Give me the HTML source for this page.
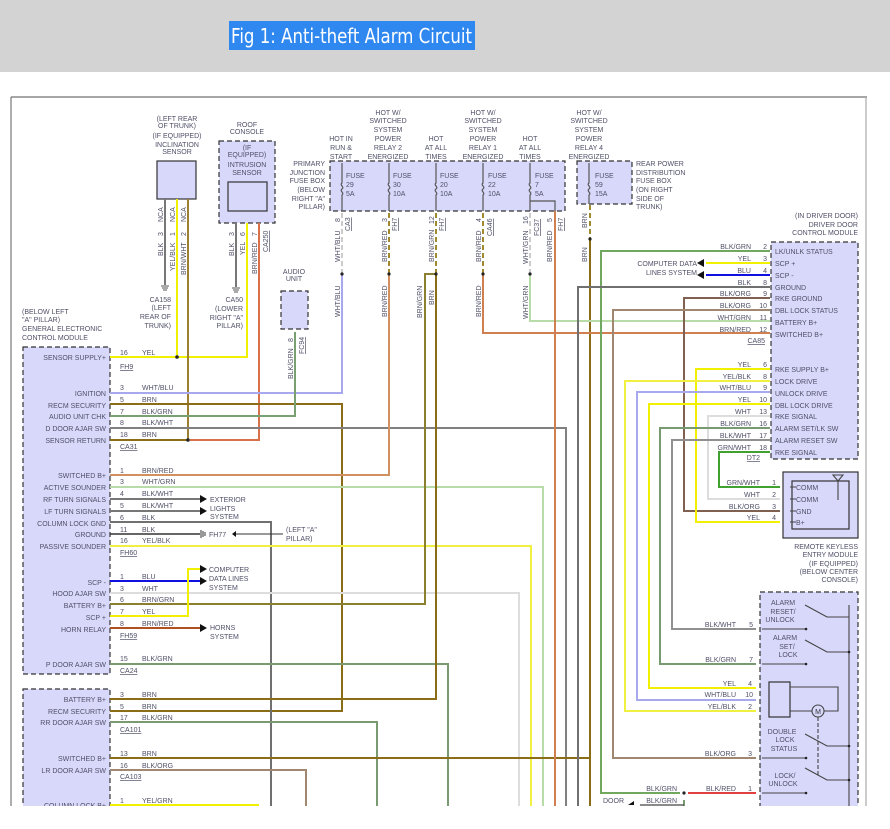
<!DOCTYPE html>
<html><head><meta charset="utf-8"><style>
html,body{margin:0;padding:0;background:#fff;width:890px;height:829px;overflow:hidden}
#hdr{position:absolute;left:0;top:0;width:890px;height:72px;background:#d3d3d3}
svg{position:absolute;left:0;top:0}
text{font-family:"Liberation Sans",sans-serif;font-size:7px;fill:#505068}
.r{text-anchor:end}.m{text-anchor:middle}
.w{fill:none;stroke-width:2}
</style></head><body>
<div id="hdr"></div>
<svg width="890" height="829" viewBox="0 0 890 829">
<rect x="229" y="21" width="246" height="29" fill="#2f88f0"/>
<text x="231" y="43" textLength="241" lengthAdjust="spacingAndGlyphs" style="font-size:20px;fill:#fff;font-family:'DejaVu Sans','Liberation Sans',sans-serif">Fig 1: Anti-theft Alarm Circuit</text>
<!-- frame -->
<line x1="11" y1="97" x2="867" y2="97" stroke="#888" stroke-width="1.5"/>
<line x1="11" y1="97" x2="11" y2="806" stroke="#777" stroke-width="1.2"/>
<line x1="866" y1="97" x2="866" y2="806" stroke="#aaa" stroke-width="1.2"/>

<!-- boxes -->
<g fill="#d8d8fb" stroke="#333" stroke-width="1.2">
<rect x="23" y="347" width="87" height="327" stroke-dasharray="5,3"/>
<rect x="23" y="689" width="87" height="130" stroke-dasharray="5,3"/>
<rect x="157" y="161" width="39" height="38"/>
<rect x="219" y="141" width="56" height="82" stroke-dasharray="5,3"/>
<rect x="228" y="182" width="39" height="29"/>
<rect x="281" y="291" width="27" height="38" stroke-dasharray="5,3"/>
<rect x="330" y="161" width="235" height="50" stroke-dasharray="5,3"/>
<rect x="577" y="161" width="55" height="43" stroke-dasharray="5,3"/>
<rect x="771" y="242" width="87" height="217" stroke-dasharray="5,3"/>
<rect x="783" y="472" width="75" height="66"/>
<rect x="792" y="481" width="57" height="48"/>
<rect x="760" y="592" width="98" height="230" stroke-dasharray="5,3"/>
<rect x="769" y="682" width="21" height="35"/>
</g>

<!-- fuses -->
<g stroke="#555" stroke-width="1.2" fill="none">
<path d="M342 163v20c-3 2 3 4 0 6c-3 2 3 4 0 6v16"/>
<path d="M389 163v20c-3 2 3 4 0 6c-3 2 3 4 0 6v16"/>
<path d="M436 163v20c-3 2 3 4 0 6c-3 2 3 4 0 6v16"/>
<path d="M483 163v20c-3 2 3 4 0 6c-3 2 3 4 0 6v16"/>
<path d="M530 163v20c-3 2 3 4 0 6c-3 2 3 4 0 6v16"/>
<path d="M530 201h25v10"/>
<path d="M589 163v20c-3 2 3 4 0 6c-3 2 3 4 0 6v9"/>
</g>
<g font-size="7"><text x="346" y="178">FUSE</text><text x="346" y="187">29</text><text x="346" y="196">5A</text>
<text x="393" y="178">FUSE</text><text x="393" y="187">30</text><text x="393" y="196">10A</text>
<text x="440" y="178">FUSE</text><text x="440" y="187">20</text><text x="440" y="196">10A</text>
<text x="488" y="178">FUSE</text><text x="488" y="187">22</text><text x="488" y="196">10A</text>
<text x="535" y="178">FUSE</text><text x="535" y="187">7</text><text x="535" y="196">5A</text>
<text x="595" y="178">FUSE</text><text x="595" y="187">59</text><text x="595" y="196">15A</text></g>

<!-- dashed upper wire segments -->
<g class="w" stroke-dasharray="5,3">
<line x1="342" y1="213" x2="342" y2="274" stroke="#ccc"/>
<line x1="389" y1="213" x2="389" y2="274" stroke="#a08a30"/>
<line x1="436" y1="213" x2="436" y2="274" stroke="#a08a30"/>
<line x1="483" y1="213" x2="483" y2="274" stroke="#a08a30"/>
<line x1="530" y1="213" x2="530" y2="274" stroke="#ccc"/>
<line x1="590" y1="205" x2="590" y2="239" stroke="#a08a30"/>
</g>

<!-- wires -->
<g class="w">
<polyline points="177,199 177,357" stroke="#f0f000"/>
<polyline points="110,357 247,357 247,223" stroke="#f0f000"/>
<polyline points="165,199 165,285" stroke="#777"/>
<polyline points="236,223 236,287" stroke="#777"/>
<polyline points="188,199 188,440" stroke="#9a8030"/>
<polyline points="110,440 188,440" stroke="#8b6d18"/>
<polyline points="190,440 259,440 259,223" stroke="#d8704a"/>
<polyline points="110,393 342,393 342,274" stroke="#a8a8ee"/>
<polyline points="110,404 342,404 342,711 110,711" stroke="#8b6d18"/>
<polyline points="110,416 295,416 295,332" stroke="#78a070"/>
<polyline points="110,428 566,428 566,806" stroke="#808080"/>
<polyline points="110,475 389,475 389,274" stroke="#d09060"/>
<polyline points="110,487 543,487 543,806" stroke="#b8dca8"/>
<polyline points="110,499 200,499" stroke="#777"/>
<polyline points="110,511 200,511" stroke="#777"/>
<polyline points="110,522 271,522 271,806" stroke="#707070"/>
<polyline points="110,534 200,534" stroke="#333" stroke-width="1.5"/>
<polyline points="110,546 531,546 531,806" stroke="#f0f040"/>
<polyline points="110,581 200,581" stroke="#1010e0"/>
<polyline points="110,593 519,593 519,806" stroke="#ddd"/>
<polyline points="110,604 425,604 425,274 436,274" stroke="#8a8030"/>
<polyline points="110,616 188,616 188,569 200,569" stroke="#f0f000"/>
<polyline points="110,628 200,628" stroke="#b05020"/>
<polyline points="110,664 448,664 448,806" stroke="#7a9a70"/>
<polyline points="110,699 436,699 436,274" stroke="#8b6d18"/>
<polyline points="110,722 377,722 377,806" stroke="#7a9a70"/>
<polyline points="110,758 590,758" stroke="#8b6d18"/>
<polyline points="590,239 590,806" stroke="#8b6d18"/>
<polyline points="110,770 306,770 306,806" stroke="#a08870"/>
<polyline points="110,805 259,805" stroke="#f0f000"/>
<polyline points="483,274 483,333 770,333" stroke="#d08050"/>
<polyline points="530,274 530,321 770,321" stroke="#b8dca8"/>
<polyline points="555,211 555,806" stroke="#d08050"/>
<polyline points="770,251 601,251 601,793 680,793" stroke="#70a860"/>
<polyline points="688,793 756,793" stroke="#e04040"/>
<polyline points="770,263 706,263" stroke="#f0f000"/>
<polyline points="770,275 706,275" stroke="#1010e0"/>
<polyline points="770,287 578,287 578,806" stroke="#707070"/>
<polyline points="770,298 684,298 684,511 780,511" stroke="#806050"/>
<polyline points="770,310 613,310 613,758 756,758" stroke="#a08870"/>
<polyline points="770,369 696,369 696,522 780,522" stroke="#f0f000"/>
<polyline points="770,381 625,381 625,711 756,711" stroke="#f0f040"/>
<polyline points="770,392 637,392 637,700 756,700" stroke="#a8a8ee"/>
<polyline points="770,404 649,404 649,688 756,688" stroke="#f0f000"/>
<polyline points="770,416 708,416 708,499 780,499" stroke="#ddd"/>
<polyline points="770,428 660,428 660,664 756,664" stroke="#789a70"/>
<polyline points="770,440 672,440 672,629 756,629" stroke="#909090"/>
<polyline points="770,452 719,452 719,487 780,487" stroke="#40a030"/>
<polyline points="684,806 684,800" stroke="#7a9a70"/>
<polyline points="684,805 640,805" stroke="#444" stroke-width="1.2"/>
</g>

<!-- dots -->
<g fill="#222"><circle cx="177" cy="357" r="1.8"/><circle cx="188" cy="440" r="1.8"/>
<circle cx="342" cy="274" r="1.6"/><circle cx="389" cy="274" r="1.6"/><circle cx="436" cy="274" r="1.6"/><circle cx="483" cy="274" r="1.6"/><circle cx="530" cy="274" r="1.6"/><circle cx="590" cy="239" r="1.6"/><circle cx="684" cy="793" r="1.6"/></g>

<!-- arrows -->
<g fill="#111">
<polygon points="200,495 207,499 200,503"/><polygon points="200,507 207,511 200,515"/>
<polygon points="200,565 207,569 200,573"/><polygon points="200,577 207,581 200,585"/>
<polygon points="200,624 207,628 200,632"/>
<polygon points="704,259 697,263 704,267"/><polygon points="704,271 697,275 704,279"/>
<polygon points="236,531 232,534 236,537"/>
<polygon points="634,801 628,805 634,805"/>
</g>
<line x1="236" y1="534" x2="283" y2="534" stroke="#333"/>
<g stroke="#333" stroke-width="1"><line x1="201" y1="530" x2="201" y2="538"/><line x1="203" y1="531" x2="203" y2="537"/><line x1="205" y1="532" x2="205" y2="536"/></g>
<g stroke="#555" stroke-width="1"><path d="M161 286h8M162 288h6M163 290h4"/><path d="M232 288h8M233 290h6M234 292h4"/></g>

<!-- lock module internals -->
<g stroke="#444" stroke-width="1.1" fill="none">
<path d="M762 629h44M762 664h44M762 758h44M762 793h44"/>
<path d="M805 605l22 12h22M805 640l22 12h22M805 734l22 12h22M805 768l22 12h22"/>
<path d="M849 605v220"/>
<path d="M790 687h48v24h-14M790 711h22"/>
<circle cx="818" cy="711" r="6"/>
<path d="M818 717v59" stroke-dasharray="4,2"/>
<path d="M838 489v-8l-5-6h10l-5 6M838 481v19"/>
<path d="M790 487h6M790 499h6M790 511h6M790 522h6"/>
</g>
<g fill="#222"><circle cx="806" cy="629" r="1.3"/><circle cx="806" cy="664" r="1.3"/><circle cx="806" cy="758" r="1.3"/><circle cx="806" cy="793" r="1.3"/><circle cx="849" cy="652" r="1.3"/><circle cx="849" cy="746" r="1.3"/><circle cx="849" cy="780" r="1.3"/></g>
<text x="818" y="714" class="m" font-size="9" style="fill:#333">M</text>

<!-- top labels -->
<g class="m">
<text x="177" y="121">(LEFT REAR</text><text x="177" y="128">OF TRUNK)</text><text x="177" y="138">(IF EQUIPPED)</text><text x="177" y="147">INCLINATION</text><text x="177" y="154">SENSOR</text>
<text x="247" y="127">ROOF</text><text x="247" y="134">CONSOLE</text>
<text x="247" y="150">(IF</text><text x="247" y="157">EQUIPPED)</text><text x="247" y="167">INTRUSION</text><text x="247" y="175">SENSOR</text>
<text x="294" y="274">AUDIO</text><text x="294" y="281">UNIT</text>
<text x="341" y="141">HOT IN</text><text x="341" y="150">RUN &amp;</text><text x="341" y="159">START</text>
<text x="388" y="115">HOT W/</text><text x="388" y="123">SWITCHED</text><text x="388" y="132">SYSTEM</text><text x="388" y="141">POWER</text><text x="388" y="150">RELAY 2</text><text x="388" y="159">ENERGIZED</text>
<text x="436" y="141">HOT</text><text x="436" y="150">AT ALL</text><text x="436" y="159">TIMES</text>
<text x="483" y="115">HOT W/</text><text x="483" y="123">SWITCHED</text><text x="483" y="132">SYSTEM</text><text x="483" y="141">POWER</text><text x="483" y="150">RELAY 1</text><text x="483" y="159">ENERGIZED</text>
<text x="530" y="141">HOT</text><text x="530" y="150">AT ALL</text><text x="530" y="159">TIMES</text>
<text x="589" y="115">HOT W/</text><text x="589" y="123">SWITCHED</text><text x="589" y="132">SYSTEM</text><text x="589" y="141">POWER</text><text x="589" y="150">RELAY 4</text><text x="589" y="159">ENERGIZED</text>
<text x="783" y="605">ALARM</text><text x="783" y="614">RESET/</text><text x="780" y="622">UNLOCK</text>
<text x="785" y="640">ALARM</text><text x="787" y="649">SET/</text><text x="788" y="657">LOCK</text>
<text x="782" y="734">DOUBLE</text><text x="785" y="742">LOCK</text><text x="784" y="751">STATUS</text>
<text x="785" y="778">LOCK/</text><text x="783" y="786">UNLOCK</text>
</g>
<g class="r">
<text x="325" y="166">PRIMARY</text><text x="325" y="175">JUNCTION</text><text x="325" y="183">FUSE BOX</text><text x="325" y="192">(BELOW</text><text x="325" y="201">RIGHT "A"</text><text x="325" y="209">PILLAR)</text>
<text x="171" y="302">CA158</text><text x="171" y="310">(LEFT</text><text x="171" y="319">REAR OF</text><text x="171" y="328">TRUNK)</text>
<text x="243" y="302">CA50</text><text x="243" y="311">(LOWER</text><text x="243" y="320">RIGHT "A"</text><text x="243" y="328">PILLAR)</text>
<text x="858" y="218">(IN DRIVER DOOR)</text><text x="858" y="227">DRIVER DOOR</text><text x="858" y="235">CONTROL MODULE</text>
<text x="697" y="266">COMPUTER DATA</text><text x="697" y="275">LINES SYSTEM</text>
<text x="858" y="549">REMOTE KEYLESS</text><text x="858" y="557">ENTRY MODULE</text><text x="858" y="566">(IF EQUIPPED)</text><text x="858" y="574">(BELOW CENTER</text><text x="858" y="582">CONSOLE)</text>
<text x="106" y="360">SENSOR SUPPLY+</text><text x="106" y="396">IGNITION</text><text x="106" y="408">RECM SECURITY</text><text x="106" y="419">AUDIO UNIT CHK</text><text x="106" y="431">D DOOR AJAR SW</text><text x="106" y="443">SENSOR RETURN</text>
<text x="106" y="478">SWITCHED B+</text><text x="106" y="490">ACTIVE SOUNDER</text><text x="106" y="502">RF TURN SIGNALS</text><text x="106" y="514">LF TURN SIGNALS</text><text x="106" y="526">COLUMN LOCK GND</text><text x="106" y="537">GROUND</text><text x="106" y="549">PASSIVE SOUNDER</text>
<text x="106" y="585">SCP -</text><text x="106" y="596">HOOD AJAR SW</text><text x="106" y="608">BATTERY B+</text><text x="106" y="620">SCP +</text><text x="106" y="632">HORN RELAY</text><text x="106" y="667">P DOOR AJAR SW</text>
<text x="106" y="702">BATTERY B+</text><text x="106" y="714">RECM SECURITY</text><text x="106" y="725">RR DOOR AJAR SW</text><text x="106" y="761">SWITCHED B+</text><text x="106" y="773">LR DOOR AJAR SW</text><text x="106" y="808">COLUMN LOCK B+</text>
<text x="751" y="249">BLK/GRN</text><text x="751" y="261">YEL</text><text x="751" y="273">BLU</text><text x="751" y="285">BLK</text><text x="751" y="296">BLK/ORG</text><text x="751" y="308">BLK/ORG</text><text x="751" y="320">WHT/GRN</text><text x="751" y="332">BRN/RED</text>
<text x="751" y="367">YEL</text><text x="751" y="379">YEL/BLK</text><text x="751" y="390">WHT/BLU</text><text x="751" y="402">YEL</text><text x="751" y="414">WHT</text><text x="751" y="426">BLK/GRN</text><text x="751" y="438">BLK/WHT</text><text x="751" y="450">GRN/WHT</text>
<text x="767" y="249">2</text><text x="767" y="261">3</text><text x="767" y="273">4</text><text x="767" y="285">8</text><text x="767" y="296">9</text><text x="767" y="308">10</text><text x="767" y="320">11</text><text x="767" y="332">12</text>
<text x="767" y="367">6</text><text x="767" y="379">8</text><text x="767" y="390">9</text><text x="767" y="402">10</text><text x="767" y="414">13</text><text x="767" y="426">16</text><text x="767" y="438">17</text><text x="767" y="450">18</text>
<text x="760" y="460" text-decoration="underline">DT2</text><text x="765" y="343" text-decoration="underline">CA85</text>
<text x="760" y="485">GRN/WHT</text><text x="760" y="497">WHT</text><text x="760" y="509">BLK/ORG</text><text x="760" y="520">YEL</text>
<text x="776" y="485">1</text><text x="776" y="497">2</text><text x="776" y="509">3</text><text x="776" y="520">4</text>
<text x="736" y="627">BLK/WHT</text><text x="736" y="662">BLK/GRN</text><text x="736" y="686">YEL</text><text x="736" y="697">WHT/BLU</text><text x="736" y="709">YEL/BLK</text><text x="736" y="756">BLK/ORG</text><text x="736" y="791">BLK/RED</text>
<text x="753" y="627">5</text><text x="753" y="662">7</text><text x="752" y="686">4</text><text x="753" y="697">10</text><text x="752" y="709">2</text><text x="752" y="756">3</text><text x="752" y="791">1</text>
<text x="677" y="791">BLK/GRN</text><text x="677" y="803">BLK/GRN</text>
</g>
<text x="636" y="166">REAR POWER</text><text x="636" y="175">DISTRIBUTION</text><text x="636" y="183">FUSE BOX</text><text x="636" y="192">(ON RIGHT</text><text x="636" y="201">SIDE OF</text><text x="636" y="209">TRUNK)</text>
<text x="22" y="314">(BELOW LEFT</text><text x="22" y="322">"A" PILLAR)</text><text x="22" y="331">GENERAL ELECTRONIC</text><text x="22" y="340">CONTROL MODULE</text>
<text x="796" y="490">COMM</text><text x="796" y="502">COMM</text><text x="796" y="514">GND</text><text x="796" y="525">B+</text>
<text x="775" y="254">LK/UNLK STATUS</text><text x="775" y="266">SCP +</text><text x="775" y="278">SCP -</text><text x="775" y="290">GROUND</text><text x="775" y="301">RKE GROUND</text><text x="775" y="313">DBL LOCK STATUS</text><text x="775" y="325">BATTERY B+</text><text x="775" y="337">SWITCHED B+</text>
<text x="775" y="372">RKE SUPPLY B+</text><text x="775" y="384">LOCK DRIVE</text><text x="775" y="396">UNLOCK DRIVE</text><text x="775" y="408">DBL LOCK DRIVE</text><text x="775" y="419">RKE SIGNAL</text><text x="775" y="431">ALARM SET/LK SW</text><text x="775" y="443">ALARM RESET SW</text><text x="775" y="455">RKE SIGNAL</text>
<g>
<text x="120" y="355">16</text><text x="142" y="355">YEL</text><text x="120" y="369" text-decoration="underline">FH9</text>
<text x="120" y="390">3</text><text x="142" y="390">WHT/BLU</text><text x="120" y="402">5</text><text x="142" y="402">BRN</text><text x="120" y="414">7</text><text x="142" y="414">BLK/GRN</text><text x="120" y="425">8</text><text x="142" y="425">BLK/WHT</text><text x="120" y="437">18</text><text x="142" y="437">BRN</text><text x="120" y="449" text-decoration="underline">CA31</text>
<text x="120" y="473">1</text><text x="142" y="473">BRN/RED</text><text x="120" y="484">3</text><text x="142" y="484">WHT/GRN</text><text x="120" y="496">4</text><text x="142" y="496">BLK/WHT</text><text x="120" y="508">5</text><text x="142" y="508">BLK/WHT</text><text x="120" y="520">6</text><text x="142" y="520">BLK</text><text x="120" y="532">11</text><text x="142" y="532">BLK</text><text x="120" y="543">16</text><text x="142" y="543">YEL/BLK</text><text x="120" y="555" text-decoration="underline">FH60</text>
<text x="120" y="579">1</text><text x="142" y="579">BLU</text><text x="120" y="591">3</text><text x="142" y="591">WHT</text><text x="120" y="602">6</text><text x="142" y="602">BRN/GRN</text><text x="120" y="614">7</text><text x="142" y="614">YEL</text><text x="120" y="626">8</text><text x="142" y="626">BRN/RED</text><text x="120" y="638" text-decoration="underline">FH59</text>
<text x="120" y="661">15</text><text x="142" y="661">BLK/GRN</text><text x="120" y="673" text-decoration="underline">CA24</text>
<text x="120" y="697">3</text><text x="142" y="697">BRN</text><text x="120" y="709">5</text><text x="142" y="709">BRN</text><text x="120" y="720">17</text><text x="142" y="720">BLK/GRN</text><text x="120" y="732" text-decoration="underline">CA101</text>
<text x="120" y="756">13</text><text x="142" y="756">BRN</text><text x="120" y="768">16</text><text x="142" y="768">BLK/ORG</text><text x="120" y="779" text-decoration="underline">CA103</text>
<text x="120" y="803">1</text><text x="142" y="803">YEL/GRN</text>
<text x="210" y="502">EXTERIOR</text><text x="210" y="511">LIGHTS</text><text x="210" y="519">SYSTEM</text>
<text x="209" y="537">FH77</text><text x="286" y="532">(LEFT "A"</text><text x="286" y="541">PILLAR)</text>
<text x="209" y="572">COMPUTER</text><text x="209" y="581">DATA LINES</text><text x="209" y="590">SYSTEM</text>
<text x="210" y="630">HORNS</text><text x="210" y="639">SYSTEM</text>
<text x="603" y="803">DOOR</text>
</g>
<g>
<text transform="translate(163,222) rotate(-90)">NCA</text><text transform="translate(175,222) rotate(-90)">NCA</text><text transform="translate(186,222) rotate(-90)">NCA</text>
<text transform="translate(163,236) rotate(-90)">3</text><text transform="translate(175,236) rotate(-90)">1</text><text transform="translate(186,236) rotate(-90)">2</text>
<text transform="translate(163,256) rotate(-90)">BLK</text><text transform="translate(175,271) rotate(-90)">YEL/BLK</text><text transform="translate(186,275) rotate(-90)">BRN/WHT</text>
<text transform="translate(234,236) rotate(-90)">3</text><text transform="translate(245,236) rotate(-90)">6</text><text transform="translate(257,236) rotate(-90)">7</text><text transform="translate(268,252) rotate(-90)" text-decoration="underline">CA250</text>
<text transform="translate(234,256) rotate(-90)">BLK</text><text transform="translate(245,255) rotate(-90)">YEL</text><text transform="translate(257,274) rotate(-90)">BRN/RED</text>
<text transform="translate(293,342) rotate(-90)">8</text><text transform="translate(293,379) rotate(-90)">BLK/GRN</text><text transform="translate(304,354) rotate(-90)" text-decoration="underline">FC94</text>
<text transform="translate(340,222) rotate(-90)">8</text><text transform="translate(350,231) rotate(-90)" text-decoration="underline">CA3</text><text transform="translate(340,262) rotate(-90)">WHT/BLU</text><text transform="translate(340,317) rotate(-90)">WHT/BLU</text>
<text transform="translate(387,222) rotate(-90)">3</text><text transform="translate(397,231) rotate(-90)" text-decoration="underline">FH7</text><text transform="translate(387,262) rotate(-90)">BRN/RED</text><text transform="translate(387,317) rotate(-90)">BRN/RED</text>
<text transform="translate(434,224) rotate(-90)">12</text><text transform="translate(444,231) rotate(-90)" text-decoration="underline">FH7</text><text transform="translate(434,262) rotate(-90)">BRN/GRN</text><text transform="translate(422,318) rotate(-90)">BRN/GRN</text><text transform="translate(434,305) rotate(-90)">BRN</text>
<text transform="translate(481,222) rotate(-90)">4</text><text transform="translate(492,236) rotate(-90)" text-decoration="underline">CA46</text><text transform="translate(481,262) rotate(-90)">BRN/RED</text><text transform="translate(481,317) rotate(-90)">BRN/RED</text>
<text transform="translate(528,224) rotate(-90)">16</text><text transform="translate(539,236) rotate(-90)" text-decoration="underline">FC37</text><text transform="translate(528,264) rotate(-90)">WHT/GRN</text><text transform="translate(528,319) rotate(-90)">WHT/GRN</text>
<text transform="translate(552,222) rotate(-90)">5</text><text transform="translate(563,231) rotate(-90)" text-decoration="underline">FH7</text><text transform="translate(552,262) rotate(-90)">BRN/RED</text>
<text transform="translate(587,228) rotate(-90)">BRN</text><text transform="translate(587,262) rotate(-90)">BRN</text>
</g>
<!-- bottom cut -->
<rect x="0" y="806" width="890" height="23" fill="#fff"/>
</svg>
</body></html>
